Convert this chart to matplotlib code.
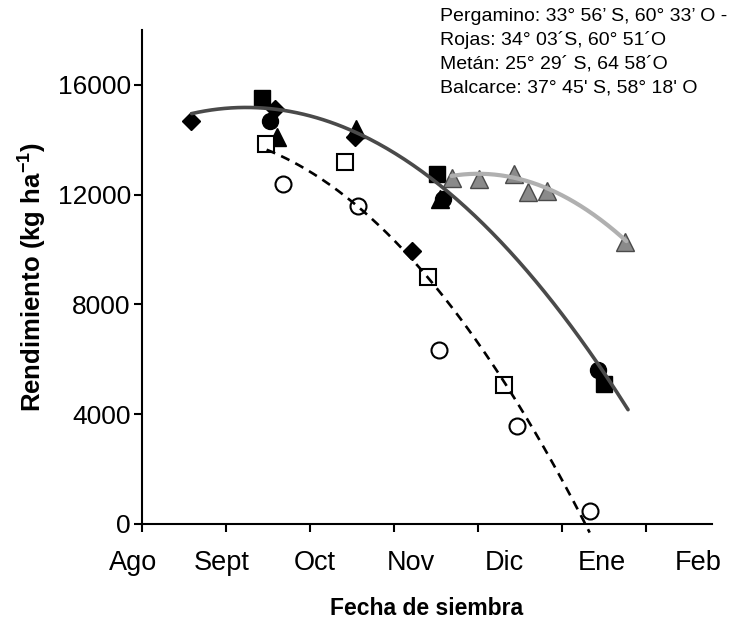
import numpy as np
import matplotlib.pyplot as plt

plt.rcParams['font.family'] = ['Liberation Sans', 'DejaVu Sans']
plt.rcParams['mathtext.fontset'] = 'custom'
plt.rcParams['mathtext.rm'] = 'Liberation Sans'
plt.rcParams['mathtext.bf'] = 'Liberation Sans:bold'

# x in months from 1 Aug (tick units), y in kg/ha
months = ['Ago', 'Sept', 'Oct', 'Nov', 'Dic', 'Ene', 'Feb']

diam_x = [0.583, 1.583, 2.536, 3.214]
diam_y = [14685, 15123, 14100, 9936]
sq_x = [1.429, 3.512, 5.50]
sq_y = [15525, 12749, 5114]
circ_x = [1.524, 3.583, 5.43]
circ_y = [14685, 11836, 5626]
tri_x = [1.607, 2.548, 3.548]
tri_y = [14100, 14393, 11836]
osq_x = [1.476, 2.417, 3.405, 4.31]
osq_y = [13845, 13187, 8986, 5078]
ocirc_x = [1.679, 2.571, 3.536, 4.464, 5.333]
ocirc_y = [12384, 11580, 6356, 3580, 475]
gtri_x = [3.69, 4.01, 4.43, 4.595, 4.82, 5.75]
gtri_y = [12603, 12566, 12749, 12091, 12128, 10265]

# fitted trend lines (points along each curve)
trend_all_x = [0.592, 1.167, 1.643, 2.357, 3.151, 3.786, 4.223, 4.5, 5.056, 5.413, 5.79]
trend_all_y = [15003, 15186, 15062, 14331, 13418, 11726, 10375, 9534, 7573, 5881, 4102]
trend_dash_x = [1.485, 1.881, 2.675, 3.012, 3.408, 4.342, 4.658, 5.056, 5.333]
trend_dash_y = [13724, 12937, 11350, 10254, 8975, 5016, 3554, 1363, -402]
trend_gray_x = [3.687, 4.024, 4.42, 4.818, 5.214, 5.532, 5.77]
trend_gray_y = [12687, 12749, 12628, 12263, 11591, 10923, 10313]

sites = ["Pergamino: 33° 56’ S, 60° 33’ O -",
         "Rojas: 34° 03´S, 60° 51´O",
         "Metán: 25° 29´ S, 64 58´O",
         "Balcarce: 37° 45' S, 58° 18' O"]

fig = plt.figure(figsize=(7.56, 6.19), dpi=100)
ax = fig.add_axes([0.1878, 0.1535, 0.754, 0.798])

mk = dict(linestyle='none', clip_on=False)
ax.plot(diam_x, diam_y, marker='D', ms=9, color='black', **mk)
ax.plot(sq_x, sq_y, marker='s', ms=12, color='black', **mk)
ax.plot(circ_x, circ_y, marker='o', ms=11.5, color='black', **mk)
ax.plot(tri_x, tri_y, marker='^', ms=13, color='black', **mk)
ax.plot(osq_x, osq_y, marker='s', ms=11.5, mfc='white', mec='black', mew=1.5, **mk)
ax.plot(ocirc_x, ocirc_y, marker='o', ms=11.5, mfc='white', mec='black', mew=1.5, **mk)
ax.plot(gtri_x, gtri_y, marker='^', ms=13, mfc='#8a8a8a', mec='#4a4a4a', mew=1, **mk)


def trend(xs, ys):
    c = np.polyfit(xs, ys, 2)
    xx = np.linspace(min(xs), max(xs), 200)
    return xx, np.polyval(c, xx)


xx, yy = trend(trend_all_x, trend_all_y)
ax.plot(xx, yy, color='#4a4a4a', lw=2.6, solid_capstyle='round')
xx, yy = trend(trend_dash_x, trend_dash_y)
ax.plot(xx, yy, color='black', lw=1.9, linestyle=(0, (3.5, 2.5)), clip_on=False)
xx, yy = trend(trend_gray_x, trend_gray_y)
ax.plot(xx, yy, color='#b0b0b0', lw=3, solid_capstyle='round')

ax.set_xlim(0, 6.79)
ax.set_ylim(0, 18000)
ax.set_yticks([0, 4000, 8000, 12000, 16000])
ax.set_xticks(range(len(months)))
ax.set_xticklabels([])
for s in ['top', 'right']:
    ax.spines[s].set_visible(False)
for s in ['left', 'bottom']:
    ax.spines[s].set_linewidth(1.5)
ax.tick_params(axis='both', direction='out', length=6, width=1.5, labelsize=19)
ax.tick_params(axis='y', pad=2)

# month names sit slightly off the tick marks
label_pos = [-0.107, 0.952, 2.06, 3.20, 4.32, 5.48, 6.63]
for p, m in zip(label_pos, months):
    ax.text(p, -0.052, m, transform=ax.get_xaxis_transform(), ha='center', va='top',
            fontsize=19.5)

ax.set_xlabel('Fecha de siembra', fontsize=16.5, fontweight='bold', labelpad=43)
ax.set_ylabel('Rendimiento (kg ha$^{\\mathbf{-1}}$)', fontsize=18.5, fontweight='bold', labelpad=7)

for i, s in enumerate(sites):
    fig.text(440 / 756, 1 - (21 + 23.7 * i) / 619, s, fontsize=14, ha='left',
             va='baseline')

fig.savefig('out.png', dpi=100)
